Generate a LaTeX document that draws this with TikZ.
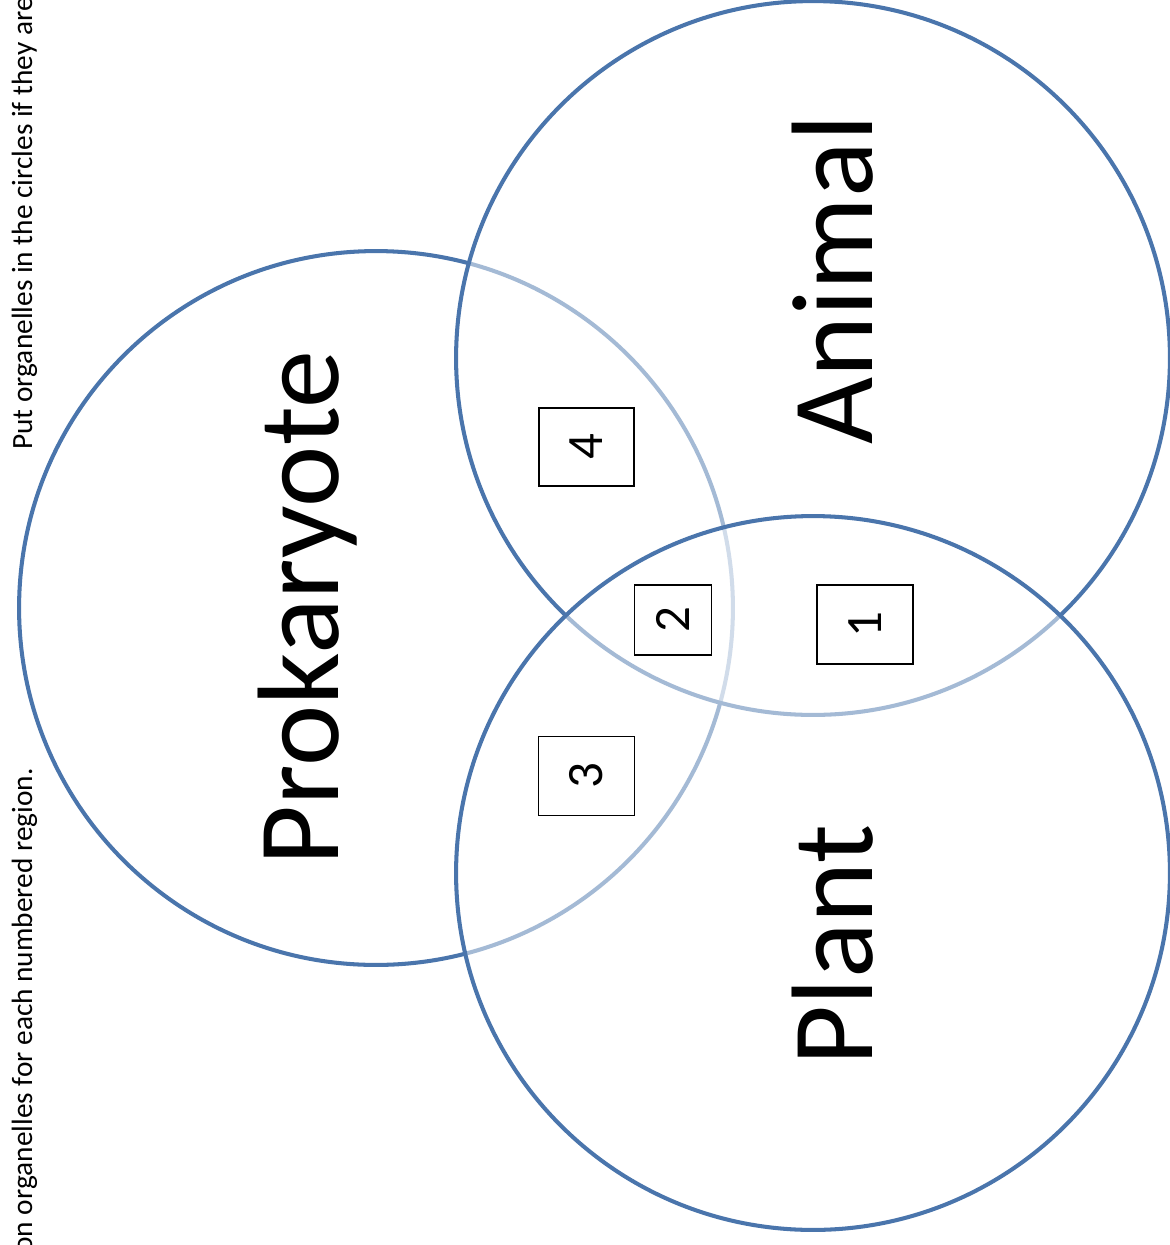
\documentclass[tikz,border=0pt]{standalone}
\usepackage{fontspec}
\setmainfont{Carlito}
\usetikzlibrary{positioning}
\definecolor{vennblue}{RGB}{74,117,172}

\begin{document}
\begin{tikzpicture}[
    x=0.02cm, y=-0.02cm,
    ring/.style={circle, draw=vennblue, line width=2.3pt, fill=white, fill opacity=0.5, minimum size=14.28cm, inner sep=0pt},
    setlabel/.style={rotate=90, anchor=base, inner sep=0pt, font=\fontsize{66}{72}\selectfont},
    numbox/.style={draw, line width=1pt, rotate=90, inner sep=0pt, font=\fontsize{29}{32}\selectfont},
    note/.style={rotate=90, inner sep=0pt, font=\fontsize{16.7}{20}\selectfont}
  ]
  \useasboundingbox (0,0) rectangle (1170,1245);
  \clip (0,0) rectangle (1170,1245);
  \node[ring] (prok) at (376,608) {};
  \node[ring] (animal) at (813,358) {};
  \node[ring] (plant) at (813,873) {};
  \node[setlabel] (prokname) at (338,608) {Prokaryote};
  \node[setlabel] (animalname) at (872,280) {Animal};
  \node[setlabel] (plantname) at (872,945) {Plant};
  \node[numbox, minimum width=1.56cm, minimum height=1.9cm] (box4) at (586.5,447) {4};
  \node[numbox, minimum width=1.4cm, minimum height=1.54cm] (box2) at (673,620) {2};
  \node[numbox, minimum width=1.58cm, minimum height=1.92cm] (box1) at (865,624.5) {1};
  \node[numbox, minimum width=1.58cm, minimum height=1.92cm] (box3) at (586.5,776) {3};
  \node[note, anchor=base west] (notetop) at (32,450) {Put organelles in the circles if they are};
  \node[note, anchor=base east] (notebottom) at (32,768) {on organelles for each numbered region.};
\end{tikzpicture}
\end{document}
